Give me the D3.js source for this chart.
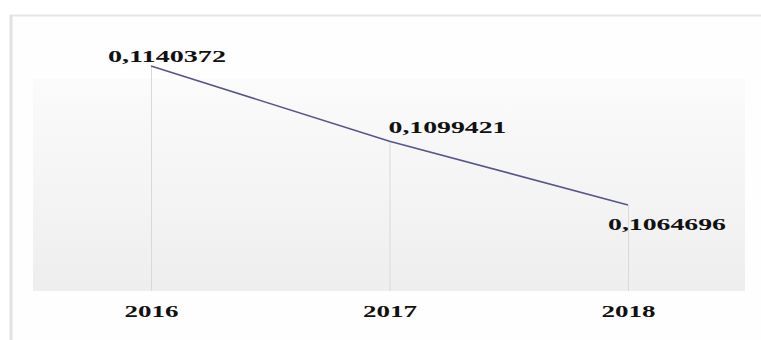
<!DOCTYPE html>
<html>
<head>
<meta charset="utf-8">
<script src="https://cdn.jsdelivr.net/npm/d3@7"></script>
<style>
  html, body { margin: 0; padding: 0; background: #ffffff; }
  svg { display: block; }
</style>
</head>
<body>
<div id="chart"></div>
<script>
// ---- data ----
const years = ["2016", "2017", "2018"];
const values = [0.1140372, 0.1099421, 0.1064696];
const valueLabels = ["0,1140372", "0,1099421", "0,1064696"];

// ---- layout ----
const W = 761, H = 340;
const plot = { left: 33, right: 745, top: 79, bottom: 291 };
const labelOffsets = [ { dx: -43, dy: -4 }, { dx: -1, dy: -8 }, { dx: -20, dy: 25 } ];

const svg = d3.select("#chart").append("svg")
  .attr("width", W).attr("height", H);

const defs = svg.append("defs");
const grad = defs.append("linearGradient").attr("id", "bg")
  .attr("x1", 0).attr("y1", 0).attr("x2", 0).attr("y2", 1);
grad.append("stop").attr("offset", "0%").attr("stop-color", "#fbfbfb");
grad.append("stop").attr("offset", "100%").attr("stop-color", "#eeeeee");

// frame
svg.append("rect").attr("x", 10).attr("y", 15).attr("width", W - 10).attr("height", H - 15)
  .attr("fill", "#fefefe");
svg.append("line").attr("x1", 10).attr("x2", W).attr("y1", 15.5).attr("y2", 15.5)
  .attr("stroke", "#e6e6e6").attr("stroke-width", 2);
svg.append("line").attr("x1", 11).attr("x2", 11).attr("y1", 15).attr("y2", H)
  .attr("stroke", "#e2e2e2").attr("stroke-width", 3);

// plot background
svg.append("rect")
  .attr("x", plot.left).attr("y", plot.top)
  .attr("width", plot.right - plot.left).attr("height", plot.bottom - plot.top)
  .attr("fill", "url(#bg)");

// scales
const x = d3.scalePoint().domain(years).range([151, 628]);
const y = d3.scaleLinear().domain([0.10178, 0.11682]).range([plot.bottom, 15]);

const data = years.map((yr, i) => ({ year: yr, value: values[i], label: valueLabels[i], off: labelOffsets[i] }));

// vertical grid lines from point down to the base
svg.append("g").selectAll("line").data(data).join("line")
  .attr("x1", d => x(d.year) + 0.5).attr("x2", d => x(d.year) + 0.5)
  .attr("y1", d => y(d.value)).attr("y2", plot.bottom)
  .attr("stroke", "#d9d9d9").attr("stroke-width", 1);

// line
svg.append("path").datum(data)
  .attr("fill", "none")
  .attr("stroke", "#56568a")
  .attr("stroke-width", 1.6)
  .attr("d", d3.line().x(d => x(d.year)).y(d => y(d.value)));

// value labels
svg.append("g").selectAll("text").data(data).join("text")
  .attr("x", d => x(d.year) + d.off.dx)
  .attr("y", d => y(d.value) + d.off.dy)
  .attr("font-family", "Liberation Serif, Times New Roman, serif")
  .attr("font-weight", "bold")
  .attr("font-size", 16)
  .attr("textLength", 118)
  .attr("lengthAdjust", "spacingAndGlyphs")
  .attr("fill", "#111")
  .text(d => d.label);

// x axis (labels only)
const xAxis = d3.axisBottom(x).tickSize(0).tickPadding(0);
const gx = svg.append("g").attr("transform", `translate(0,${plot.bottom})`).call(xAxis);
gx.select(".domain").remove();
gx.selectAll("text")
  .attr("y", 26)
  .attr("dy", 0)
  .attr("font-family", "Liberation Serif, Times New Roman, serif")
  .attr("font-weight", "bold")
  .attr("font-size", 17)
  .attr("textLength", 54)
  .attr("lengthAdjust", "spacingAndGlyphs")
  .attr("fill", "#111");
</script>
</body>
</html>
